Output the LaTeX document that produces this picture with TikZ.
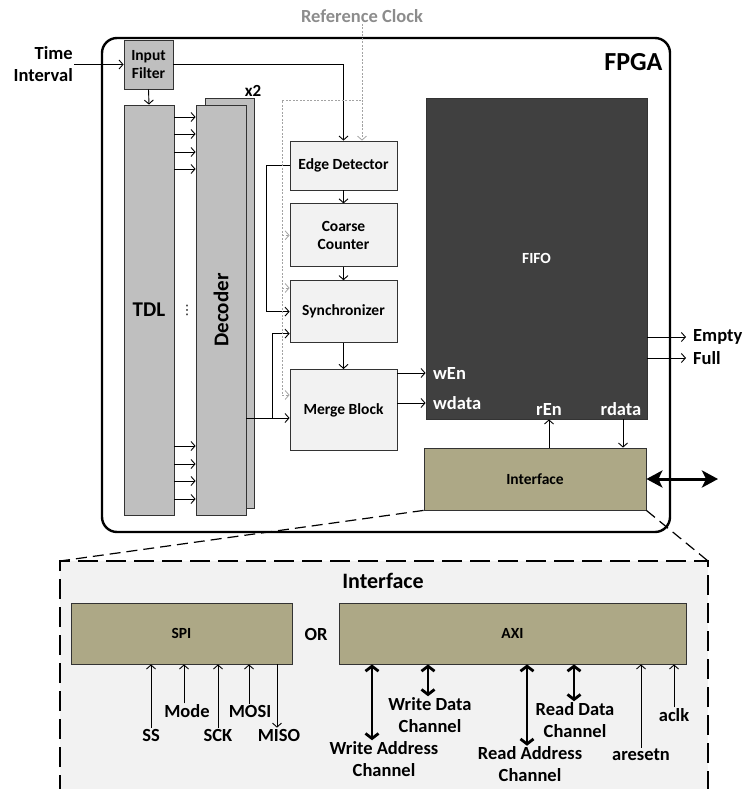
\documentclass[tikz,border=0pt]{standalone}
\usepackage{fontspec}
\setmainfont{Carlito}
\newfontfamily\symfont{DejaVu Sans}
\usetikzlibrary{positioning,calc,arrows.meta}

\definecolor{tdlgray}{HTML}{BFBFBF}
\definecolor{blkgray}{HTML}{F2F2F2}
\definecolor{fifodark}{HTML}{404040}
\definecolor{ifkhaki}{HTML}{ADA886}
\definecolor{clkgray}{HTML}{8C8C8C}

\tikzset{
  blk/.style={draw=black!80, line width=0.8pt, inner sep=0pt, align=center,
    font=\bfseries\fontsize{15.5}{18}\selectfont},
  grayblk/.style={blk, fill=tdlgray},
  lightblk/.style={blk, fill=blkgray, minimum width=107pt},
  ifblk/.style={blk, fill=ifkhaki},
  lbl/.style={inner sep=1pt, align=center, font=\bfseries\fontsize{18.5}{22}\selectfont},
  portlbl/.style={lbl, text=white},
  sig/.style={line width=0.9pt, -{Straight Barb[length=4pt,width=9pt]}},
  chan/.style={line width=2.8pt, {Straight Barb[length=5pt,width=13pt]}-{Straight Barb[length=5pt,width=13pt]}},
  busarrow/.style={line width=3pt, {Stealth[length=16pt,width=17pt,inset=4pt]}-{Stealth[length=16pt,width=17pt,inset=4pt]}},
  clkline/.style={draw=clkgray!80, line width=0.8pt, dash pattern=on 2pt off 1.5pt},
  clkarrow/.style={clkline, -{Straight Barb[length=4pt,width=9pt]}},
  boxdash/.style={line width=1.3pt, dash pattern=on 20pt off 8pt},
  zoomdash/.style={line width=1.2pt, dash pattern=on 11pt off 6pt}
}

\begin{document}
\begin{tikzpicture}[x=1pt, y=-1pt]
\useasboundingbox (0,0) rectangle (747,789);

% FPGA outline
\draw[line width=2.4pt, rounded corners=15pt] (102,38) rectangle (670,532);
\node[font=\bfseries\fontsize{26}{30}\selectfont, anchor=east] (fpga) at (666,62) {FPGA};

% Input filter, TDL and decoder
\node[lbl, align=right, anchor=east] (tin) at (74,64.5) {Time\\Interval};
\node[grayblk, minimum width=49pt, minimum height=49pt] (filt) at (148.5,64.5) {Input\\Filter};
\node[grayblk, minimum width=50pt, minimum height=410pt,
      font=\bfseries\fontsize{21}{24}\selectfont] (tdl) at (149,310) {TDL};
\node[grayblk, minimum width=49pt, minimum height=410pt] (decx) at (229.5,303) {};
\node[grayblk, minimum width=50pt, minimum height=410pt] (dec) at (221,310) {};
\node[rotate=90, font=\bfseries\fontsize{21}{24}\selectfont] (declbl) at (dec.center) {Decoder};
\node[lbl, font=\bfseries\fontsize{17}{20}\selectfont] (xtwo) at (253,91) {x2};
\node[font=\symfont\fontsize{13}{15}\selectfont] (dots) at (187,310) {⋮};

\draw[sig] (tin.east) -- (filt.west);
\draw[sig] (filt.south) -- (tdl.north);
\foreach \y in {117,134,152,169,446,464,481,499}
  \draw[sig] (tdl.east |- 0,\y) -- (dec.west |- 0,\y);

% Processing chain
\node[lightblk, minimum height=49pt] (edge) at (343.5,165.5) {Edge Detector};
\node[lightblk, minimum height=63pt, below=13pt of edge] (coarse) {Coarse\\Counter};
\node[lightblk, minimum height=62pt, below=13pt of coarse] (sync) {Synchronizer};
\node[lightblk, minimum height=81pt, below=26pt of sync] (merge) {Merge Block};

\draw[sig] (filt.east) -| (edge.north);
\draw[sig] (edge.south) -- (coarse.north);
\draw[sig] (coarse.south) -- (sync.north);
\draw[sig] (sync.south) -- (merge.north);
\draw[sig] (edge.west) -- ++(-23,0) |- (sync.west);
\coordinate (decout) at (dec.east |- 0,418);
\draw[sig] (decout) -- (merge.west |- decout);
\draw[sig] (decout -| 272,0) |- ($(sync.west)+(0,22)$);

% Reference clock
\node[lbl, text=clkgray] (ref) at (362,16) {Reference Clock};
\coordinate (clkbus) at (282,100);
\draw[clkline] (ref.south) -- (ref.south |- clkbus) -- (clkbus) -- (clkbus |- 0,395);
\draw[clkarrow] (ref.south |- clkbus) -- (ref.south |- edge.north);
\draw[clkarrow] (clkbus |- coarse.west) -- (coarse.west);
\draw[clkarrow] (clkbus |- 0,288) -- (sync.west |- 0,288);
\draw[clkarrow] (clkbus |- 0,395) -- (merge.west |- 0,395);

% FIFO and interface
\node[blk, fill=fifodark, text=white, minimum width=221pt, minimum height=321pt] (fifo) at (536.5,258.5) {FIFO};
\node[ifblk, minimum width=222pt, minimum height=62pt] (iface) at (535,479) {Interface};

\node[portlbl, anchor=west] (wen) at (432,373) {wEn};
\node[portlbl, anchor=west] (wdata) at (432,403) {wdata};
\node[portlbl] (ren) at (549,409) {rEn};
\node[portlbl] (rdata) at (621,409) {rdata};
\draw[sig] (merge.east |- wen) -- (fifo.west |- wen);
\draw[sig] (merge.east |- wdata) -- (fifo.west |- wdata);
\draw[sig] (iface.north -| ren) -- (fifo.south -| ren);
\draw[sig] (fifo.south -| 623,0) -- (iface.north -| 623,0);

\node[lbl, anchor=west] (empty) at (692,337) {Empty};
\node[lbl, anchor=west] (full) at (692,358) {Full};
\draw[sig] (fifo.east |- 0,337) -- ([xshift=-6pt]empty.west |- 0,337);
\draw[sig] (fifo.east |- full) -- ([xshift=-6pt]full.west);

\coordinate (bus) at (718,479);
\draw[busarrow] (iface.east) -- (bus);

% Zoomed interface
\coordinate (zl) at (60,561);
\coordinate (zr) at (708,561);
\fill[blkgray] (zl) rectangle (708,795);
\draw[boxdash] (60,795) -- (zl) -- (zr) -- (708,795);
\draw[zoomdash] (iface.south west) -- (zl);
\draw[zoomdash] (iface.south east) -- (zr);

\node[font=\bfseries\fontsize{22}{26}\selectfont] (ifhead) at (383,581) {Interface};
\node[ifblk, minimum width=221pt, minimum height=61pt] (spi) at (181.5,633.5) {SPI};
\node[lbl] (or) at (316,634) {OR};
\node[ifblk, minimum width=347pt, minimum height=61pt] (axi) at (512.5,633.5) {AXI};

% SPI signals
\node[lbl] (ss) at (151,735) {SS};
\node[lbl] (mode) at (187,711) {Mode};
\node[lbl] (sck) at (218,735) {SCK};
\node[lbl] (mosi) at (250,711) {MOSI};
\node[lbl] (miso) at (279,735) {MISO};
\draw[sig] (ss.north) -- (spi.south -| ss);
\draw[sig] ([xshift=-3pt]mode.north) -- (spi.south -| 184,0);
\draw[sig] (sck.north) -- (spi.south -| sck);
\draw[sig] ([xshift=-1pt]mosi.north) -- (spi.south -| 249,0);
\draw[sig] (spi.south -| 277,0) -- ([xshift=-2pt]miso.north);

% AXI channels
\node[lbl] (wach) at (384,759) {Write Address\\Channel};
\node[lbl] (wdch) at (430,715) {Write Data\\Channel};
\node[lbl] (rach) at (530,764.5) {Read Address\\Channel};
\node[lbl] (rdch) at (575,720) {Read Data\\Channel};
\node[lbl] (arst) at (641,755) {aresetn};
\node[lbl] (aclk) at (674,715) {aclk};
\draw[chan] (axi.south -| 372,0) -- ([xshift=-12pt]wach.north);
\draw[chan] (axi.south -| 428,0) -- ([xshift=-2pt]wdch.north);
\draw[chan] (axi.south -| 527,0) -- ([xshift=-3pt]rach.north);
\draw[chan] (axi.south -| 574,0) -- ([xshift=-1pt]rdch.north);
\draw[sig] (arst.north) -- (axi.south -| arst);
\draw[sig] (aclk.north) -- (axi.south -| aclk);

\end{tikzpicture}
\end{document}
